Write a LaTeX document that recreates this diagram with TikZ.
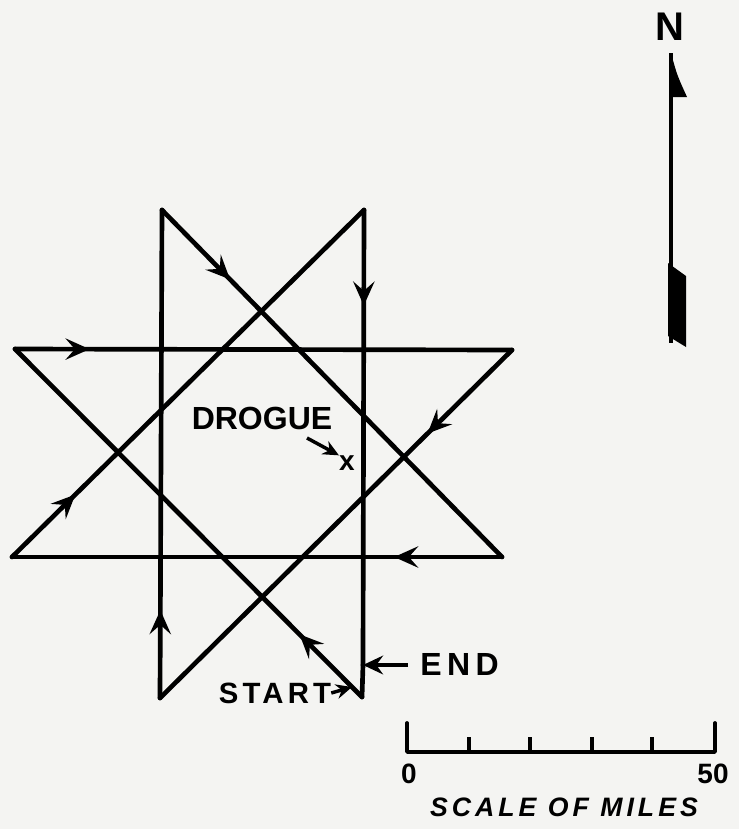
\documentclass[tikz,border=0pt]{standalone}
\usepackage{fontspec}
\setmainfont{Liberation Sans}
\newfontfamily\letterfont{Liberation Sans}
\usetikzlibrary{arrows.meta, decorations.markings, positioning}
\definecolor{paper}{RGB}{244,244,242}

\tikzset{
  track/.style={line width=3.5pt, line cap=round, line join=round},
  leg/.style={track, postaction={decorate},
    decoration={markings, mark=at position #1 with {\arrow{Stealth[length=18pt,width=16pt,inset=7pt]}}}},
  lettering/.style={font=\letterfont\bfseries, inner sep=0pt},
  pointer/.style={line width=2.6pt, -{Stealth[length=12pt,width=11pt,inset=4pt]}},
}

\begin{document}
\begin{tikzpicture}[x=0.75pt, y=-0.75pt]
    \fill[paper] (0,0) rectangle (739,829);
    \useasboundingbox (0,0) rectangle (739,829);

    % corners of the track
    \coordinate (A) at (362,697);
    \coordinate (B) at (15,349);
    \coordinate (C) at (512,350);
    \coordinate (D) at (160,698);
    \coordinate (E) at (162,210);
    \coordinate (F) at (502,557);
    \coordinate (G) at (12,557);
    \coordinate (H) at (364,210);
    \coordinate (endpt) at (363,665);

    % the eight legs
    \draw[leg=0.18] (A) -- (B);
    \draw[leg=0.15] (B) -- (C);
    \draw[leg=0.24] (C) -- (D);
    \draw[leg=0.18] (D) -- (E);
    \draw[leg=0.20] (E) -- (F);
    \draw[leg=0.22] (F) -- (G);
    \draw[leg=0.18] (G) -- (H);
    \draw[leg=0.21] (H) -- (endpt);
    \draw[track] (endpt) -- (A);

    % labels
    \node[lettering, font=\letterfont\bfseries\fontsize{24}{24}\selectfont] (drogue) at (262,418) {DROGUE};
    \node[lettering, font=\letterfont\bfseries\fontsize{21}{21}\selectfont] (drgx) at (347,463) {x};
    \coordinate (drgtail) at (307,438);
    \draw[pointer] (drgtail) -- (drgx.north west);

    \node[lettering, font=\letterfont\bfseries\fontsize{22}{22}\selectfont\addfontfeature{LetterSpace=14}] (start) at (275,693) {START};
    \coordinate (starttip) at (352,687);
    \draw[pointer] (start.east) -- (starttip);

    \node[lettering, anchor=west, font=\letterfont\bfseries\fontsize{24}{24}\selectfont\addfontfeature{LetterSpace=17}] (endlbl) at (420,664) {END};
    \draw[pointer, line width=3pt, -{Stealth[length=15pt,width=14pt,inset=5pt]}] (endlbl.west) ++(-12,1) coordinate (endtail) -- (endpt);

    % north arrow
    \node[lettering, font=\letterfont\bfseries\fontsize{30}{30}\selectfont] (north) at (670,27) {N};
    \coordinate (ntop) at (671,53);
    \coordinate (nbot) at (671,343);
    \draw[line width=3.6pt] (ntop) -- (nbot);
    \fill (ntop) .. controls (677,75) .. (687,97) -- (670,97) -- cycle;
    \fill (668,263) -- (686,276) -- (686,347) -- (668,336) -- cycle;

    % scale bar
    \coordinate (s0) at (407,752);
    \coordinate (s50) at (715,752);
    \draw[line width=2.8pt, line cap=round, line join=round] (407,723) -- (s0) -- (s50) -- (715,723);
    \foreach \tx in {469,530,592,652}
        \draw[line width=2.8pt] (\tx,752) -- (\tx,737);
    \node[lettering, font=\letterfont\bfseries\fontsize{21}{21}\selectfont] (zero) at (409,774) {0};
    \node[lettering, font=\letterfont\bfseries\fontsize{21}{21}\selectfont] (fifty) at (713,774) {50};
    \node[lettering, font=\letterfont\bfseries\itshape\fontsize{20}{20}\selectfont\addfontfeature{LetterSpace=15}] (scale) at (564,807) {SCALE OF MILES};
\end{tikzpicture}
\end{document}
